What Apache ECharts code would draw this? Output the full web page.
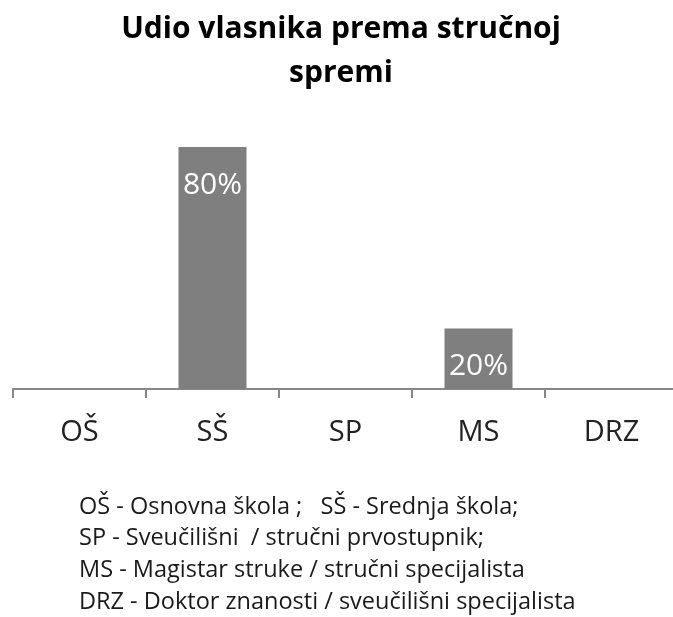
<!DOCTYPE html>
<html>
<head>
<meta charset="utf-8">
<script src="https://cdn.jsdelivr.net/npm/echarts@6/dist/echarts.min.js"></script>
<style>
  html, body { margin: 0; padding: 0; background: #fff; }
  #chart { width: 673px; height: 617px; }
</style>
</head>
<body>
<div id="chart"></div>
<script>
const categories = ['OŠ', 'SŠ', 'SP', 'MS', 'DRZ']
const shares = [0, 0.8, 0, 0.2, 0]
const titleText = 'Udio vlasnika prema stručnoj\nspremi'
const legendLines = [
  'OŠ - Osnovna škola ;   SŠ - Srednja škola;',
  'SP - Sveučilišni  / stručni prvostupnik;',
  'MS - Magistar struke / stručni specijalista',
  'DRZ - Doktor znanosti / sveučilišni specijalista'
]

const chart = echarts.init(document.getElementById('chart'))
chart.setOption({
  animation: false,
  title: [
    {
      text: titleText,
      left: 341,
      top: 7,
      padding: 0,
      textAlign: 'center',
      textStyle: {
        fontFamily: 'Open Sans',
        fontSize: 30,
        fontWeight: 'bold',
        color: '#000',
        lineHeight: 44
      }
    },
    {
      text: legendLines.join('\n'),
      left: 79,
      top: 491,
      padding: 0,
      textStyle: {
        fontFamily: 'Open Sans',
        fontSize: 23.5,
        fontWeight: 'normal',
        color: '#1a1a1a',
        lineHeight: 31.7
      }
    }
  ],
  grid: {
    left: 13,
    width: 665,
    top: 86.5,
    bottom: 228,
    outerBoundsMode: 'none'
  },
  xAxis: {
    type: 'category',
    data: categories,
    axisLine: {
      lineStyle: { color: '#878787', width: 2 }
    },
    axisTick: {
      show: true,
      length: 9,
      lineStyle: { color: '#878787', width: 2 }
    },
    axisLabel: {
      margin: 29,
      fontFamily: 'Open Sans',
      fontSize: 29,
      color: '#222'
    }
  },
  yAxis: {
    type: 'value',
    min: 0,
    max: 1,
    show: false
  },
  series: [
    {
      type: 'bar',
      data: shares,
      barWidth: 68,
      itemStyle: { color: '#7f7f7f' },
      label: {
        show: true,
        position: 'insideTop',
        distance: 23,
        fontFamily: 'Open Sans',
        fontSize: 30,
        color: '#fff',
        formatter: function(p) {
          return p.value > 0 ? Math.round(p.value * 100) + '%' : ''
        }
      }
    }
  ]
})
</script>
</body>
</html>
